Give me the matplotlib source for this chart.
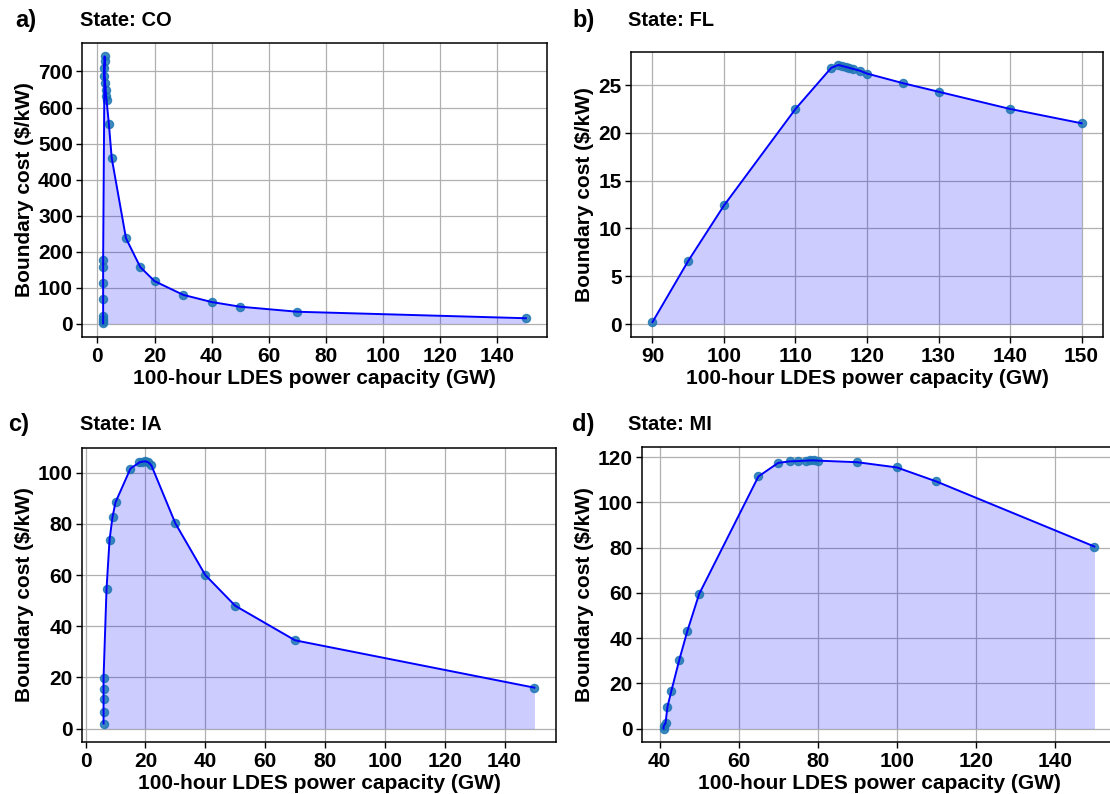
import numpy as np
import matplotlib.pyplot as plt
from matplotlib.ticker import MultipleLocator

plt.rcParams['font.family'] = ['Liberation Sans', 'DejaVu Sans']
plt.rcParams['font.weight'] = 'bold'

# data
co_x = [2, 2, 2, 2, 2, 2, 2, 2, 2.5, 2.6, 2.4, 2.4, 2.7, 2.9, 3.0, 3.2, 4, 5, 10, 15, 20, 30, 40, 50, 70, 150]
co_y = [1, 6, 12, 20, 68, 113, 157, 178, 742, 730, 710, 688, 668, 648, 633, 620, 555, 460, 237, 157, 118, 80, 60, 47, 33, 15]

fl_x = [90, 95, 100, 110, 115, 116, 116.5, 117, 117.5, 118, 119, 120, 125, 130, 140, 150]
fl_y = [0.2, 6.6, 12.4, 22.5, 26.8, 27.1, 27.0, 26.9, 26.8, 26.7, 26.5, 26.2, 25.2, 24.3, 22.5, 21.0]

ia_x = [6, 6, 6, 6, 6, 7, 8, 9, 10, 15, 18, 19, 20, 21, 22, 30, 40, 50, 70, 150]
ia_y = [2, 6.6, 11.4, 15.5, 19.8, 54.6, 73.7, 82.7, 88.4, 101.6, 104, 104.3, 104.4, 104, 102.8, 80.2, 60, 48, 34.5, 16]

mi_x = [41, 41, 41.5, 42, 43, 45, 47, 50, 65, 70, 73, 75, 77, 78, 79, 80, 90, 100, 110, 150]
mi_y = [0, 1, 2.5, 9.7, 16.8, 30.5, 43, 59.5, 111.5, 117.5, 118.2, 118.3, 118.5, 118.6, 118.6, 118.5, 117.8, 115.5, 109.3, 80.5]

# tag, title, x, y, axes box (px), label positions (px), x/y tick steps
panels = [
    ('a)', 'State: CO', co_x, co_y, (82, 43, 547, 337), (15, 80, 20), (20, 100)),
    ('b)', 'State: FL', fl_x, fl_y, (631, 52, 1103, 337), (572, 628, 20), (10, 5)),
    ('c)', 'State: IA', ia_x, ia_y, (82, 448, 556, 742), (8, 80, 425), (20, 20)),
    ('d)', 'State: MI', mi_x, mi_y, (642, 447, 1116, 742), (572, 628, 425), (20, 20)),
]

W, H = 1110, 794
fig = plt.figure(figsize=(W / 100, H / 100), dpi=100)

for tag, title, x, y, box, lab, steps in panels:
    l, t, r, b = box
    ax = fig.add_axes([l / W, 1 - b / H, (r - l) / W, (b - t) / H])
    ax.fill_between(x, y, color='blue', alpha=0.2, linewidth=0)
    ax.scatter(x, y, s=34, color='C0', alpha=0.85, zorder=2)
    ax.plot(x, y, color='blue', linewidth=1.4, zorder=3)
    ax.xaxis.set_major_locator(MultipleLocator(steps[0]))
    ax.yaxis.set_major_locator(MultipleLocator(steps[1]))
    ax.grid(True, color='#b0b0b0', linewidth=0.9)
    ax.set_axisbelow(True)
    ax.set_xlabel('100-hour LDES power capacity (GW)', fontsize=15, fontweight='bold', labelpad=2)
    ax.set_ylabel('Boundary cost ($/kW)', fontsize=15, fontweight='bold', labelpad=3)
    ax.tick_params(labelsize=15, width=1, length=4)
    ax.tick_params(axis='y', pad=2.5)
    for s in ax.spines.values():
        s.set_linewidth(1.1)
    fig.text(lab[0] / W, 1 - lab[2] / H, tag, fontsize=17, fontweight='bold', va='center', ha='left')
    fig.text(lab[1] / W, 1 - lab[2] / H, title, fontsize=14.5, fontweight='bold', va='center', ha='left')

fig.savefig('out.png', dpi=100)
